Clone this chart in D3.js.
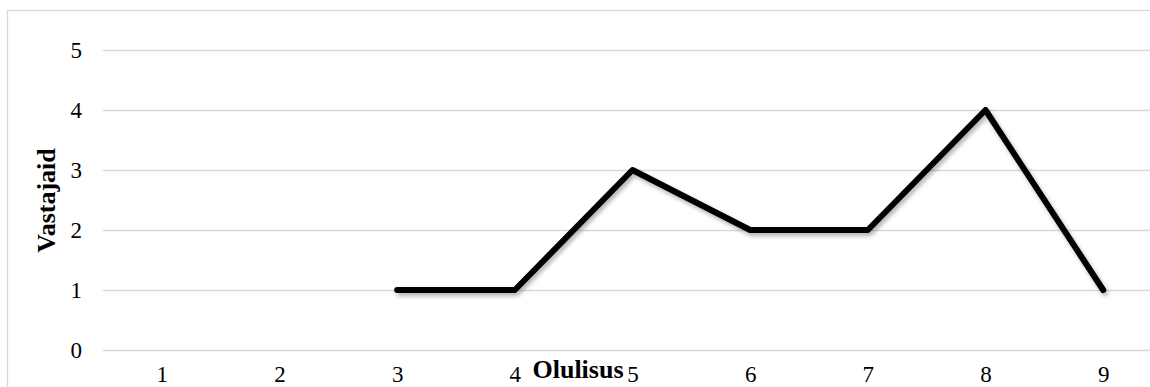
<!DOCTYPE html>
<html>
<head>
<meta charset="utf-8">
<script src="https://cdn.jsdelivr.net/npm/d3@7"></script>
<style>
  html, body { margin: 0; padding: 0; background: #fff; }
  svg { display: block; }
  text { font-family: "Liberation Serif", "Times New Roman", serif; fill: #000; }
</style>
</head>
<body>
<svg id="chart" width="1150" height="387"></svg>
<script>
const categories = ["1", "2", "3", "4", "5", "6", "7", "8", "9"];
const values = [null, null, 1, 1, 3, 2, 2, 4, 1];
const yTicks = [0, 1, 2, 3, 4, 5];
const xTitle = "Olulisus";
const yTitle = "Vastajaid";

const svg = d3.select("#chart");
const plot = { left: 103, right: 1162, top: 50, bottom: 350 };

// chart border
svg.append("rect")
  .attr("x", 7.5).attr("y", 10.5)
  .attr("width", 1200).attr("height", 400)
  .attr("fill", "none").attr("stroke", "#d9d9d9").attr("stroke-width", 1.3);

const x = d3.scalePoint().domain(categories).range([plot.left, plot.right]).padding(0.5);
const y = d3.scaleLinear().domain([0, 5]).range([plot.bottom, plot.top]);

// gridlines + y labels
const yAxis = d3.axisLeft(y).tickValues(yTicks).tickSize(-(plot.right - plot.left)).tickPadding(21).tickFormat(d3.format("d"));
const gy = svg.append("g").attr("transform", `translate(${plot.left},0)`).call(yAxis);
gy.select(".domain").remove();
gy.selectAll(".tick line").attr("stroke", "#d9d9d9").attr("stroke-width", 1.3);
gy.selectAll(".tick text").attr("font-size", 23).attr("font-family", "Liberation Serif, serif").attr("fill", "#000");

// x axis labels
const xAxis = d3.axisBottom(x).tickSize(0).tickPadding(0);
const gx = svg.append("g").attr("transform", `translate(0,${plot.bottom})`).call(xAxis);
gx.select(".domain").remove();
gx.selectAll(".tick text")
  .attr("font-size", 23).attr("font-family", "Liberation Serif, serif").attr("fill", "#000")
  .attr("dy", null).attr("y", 32);

// shadow filter
const defs = svg.append("defs");
const f = defs.append("filter").attr("id", "shadow").attr("x", "-10%").attr("y", "-10%").attr("width", "120%").attr("height", "130%");
f.append("feDropShadow").attr("dx", 2).attr("dy", 3).attr("stdDeviation", 2).attr("flood-color", "#000").attr("flood-opacity", 0.3);

// line
const data = categories.map((c, i) => ({ c, v: values[i] }));
const line = d3.line().defined(d => d.v !== null).x(d => x(d.c)).y(d => y(d.v));
svg.append("path")
  .datum(data)
  .attr("d", line)
  .attr("fill", "none")
  .attr("stroke", "#000")
  .attr("stroke-width", 6)
  .attr("stroke-linejoin", "round")
  .attr("stroke-linecap", "round")
  .attr("filter", "url(#shadow)");

// axis titles
svg.append("text")
  .attr("x", 578).attr("y", 378)
  .attr("text-anchor", "middle")
  .attr("font-size", 26).attr("font-weight", "bold")
  .text(xTitle);

svg.append("text")
  .attr("transform", "translate(54.5,200.5) rotate(-90)")
  .attr("text-anchor", "middle")
  .attr("font-size", 26).attr("font-weight", "bold")
  .text(yTitle);
</script>
</body>
</html>
